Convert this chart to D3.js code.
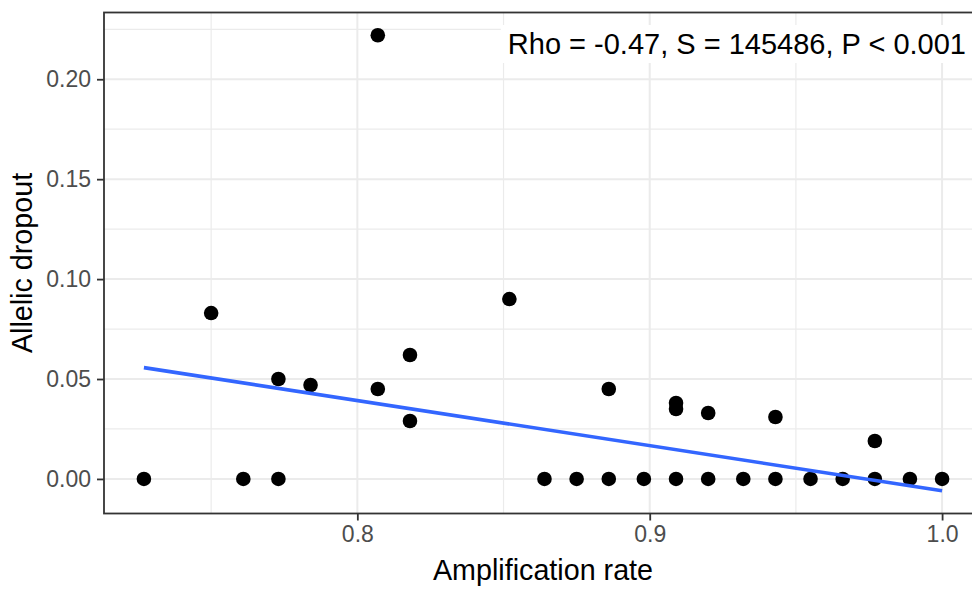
<!DOCTYPE html>
<html lang="en">
<head>
    <meta charset="UTF-8">
    <script src="https://d3js.org/d3.v7.min.js"></script>
    <style>
        body { margin: 0; padding: 0; background: #fff; }
        svg { display: block; font-family: "Liberation Sans", Arial, sans-serif; }
    </style>
</head>
<body>
    <div id="chart"></div>
    <script>
        // Data
        const ampRate = [0.727, 0.750, 0.761, 0.773, 0.773, 0.784, 0.807, 0.807, 0.818, 0.818,
                         0.852, 0.864, 0.875, 0.886, 0.886, 0.898, 0.909, 0.909, 0.909, 0.920,
                         0.920, 0.932, 0.943, 0.943, 0.955, 0.966, 0.977, 0.977, 0.989, 1.000];
        const dropout = [0, 0.083, 0, 0.050, 0, 0.047, 0.222, 0.045, 0.062, 0.029,
                         0.090, 0, 0, 0.045, 0, 0, 0.038, 0.035, 0, 0.033,
                         0, 0, 0.031, 0, 0, 0, 0.019, 0, 0, 0];
        // fitted line (start / end)
        const fitX = [0.727, 1.000];
        const fitY = [0.0557, -0.0059];
        const xTicks = [0.8, 0.9, 1.0];
        const xMinor = [0.75, 0.85, 0.95];
        const yTicks = [0, 0.05, 0.10, 0.15, 0.20];
        const yMinor = [0.025, 0.075, 0.125, 0.175, 0.225];
        const statLabel = "Rho = -0.47, S = 145486, P < 0.001";

        const width = 972, height = 590;
        const panel = {left: 104, right: 982, top: 12.5, bottom: 513.5};

        const svg = d3.select("#chart").append("svg")
            .attr("width", width)
            .attr("height", height);

        // ggplot-style 5% expansion
        const xExt = d3.extent(ampRate);
        const xPad = (xExt[1] - xExt[0]) * 0.05;
        const x = d3.scaleLinear()
            .domain([xExt[0] - xPad, xExt[1] + xPad])
            .range([panel.left, panel.right]);

        const yAll = dropout.concat(fitY);
        const yExt = d3.extent(yAll);
        const yPad = (yExt[1] - yExt[0]) * 0.05;
        const y = d3.scaleLinear()
            .domain([yExt[0] - yPad, yExt[1] + yPad])
            .range([panel.bottom, panel.top]);

        const grid = svg.append("g");
        grid.selectAll(".xminor").data(xMinor).join("line")
            .attr("x1", d => x(d)).attr("x2", d => x(d))
            .attr("y1", panel.top).attr("y2", panel.bottom)
            .attr("stroke", "#ebebeb").attr("stroke-width", 1.2);
        grid.selectAll(".yminor").data(yMinor).join("line")
            .attr("y1", d => y(d)).attr("y2", d => y(d))
            .attr("x1", panel.left).attr("x2", panel.right)
            .attr("stroke", "#ebebeb").attr("stroke-width", 1.2);
        grid.selectAll(".xmajor").data(xTicks).join("line")
            .attr("x1", d => x(d)).attr("x2", d => x(d))
            .attr("y1", panel.top).attr("y2", panel.bottom)
            .attr("stroke", "#ebebeb").attr("stroke-width", 2);
        grid.selectAll(".ymajor").data(yTicks).join("line")
            .attr("y1", d => y(d)).attr("y2", d => y(d))
            .attr("x1", panel.left).attr("x2", panel.right)
            .attr("stroke", "#ebebeb").attr("stroke-width", 2);

        // points
        svg.append("g").selectAll("circle")
            .data(ampRate.map((a, i) => ({a: a, d: dropout[i]})))
            .join("circle")
            .attr("cx", d => x(d.a))
            .attr("cy", d => y(d.d))
            .attr("r", 7.3)
            .attr("fill", "#000");

        // fitted line
        const line = d3.line().x(d => x(d[0])).y(d => y(d[1]));
        svg.append("path")
            .datum(fitX.map((v, i) => [v, fitY[i]]))
            .attr("d", line)
            .attr("fill", "none")
            .attr("stroke", "#3366FF")
            .attr("stroke-width", 3.6);

        // annotation with white box
        const ann = svg.append("g");
        const annText = ann.append("text")
            .attr("x", 966)
            .attr("y", 54)
            .attr("text-anchor", "end")
            .attr("font-size", 29)
            .attr("fill", "#000")
            .text(statLabel);
        const bb = annText.node().getBBox();
        ann.insert("rect", "text")
            .attr("x", bb.x - 7)
            .attr("y", bb.y - 3)
            .attr("width", bb.width + 20)
            .attr("height", bb.height + 6)
            .attr("fill", "#fff");

        // panel border
        svg.append("rect")
            .attr("x", panel.left).attr("y", panel.top)
            .attr("width", panel.right - panel.left)
            .attr("height", panel.bottom - panel.top)
            .attr("fill", "none")
            .attr("stroke", "#333333")
            .attr("stroke-width", 1.8);

        // axes
        const xAxis = svg.append("g")
            .attr("transform", `translate(0,${panel.bottom})`)
            .call(d3.axisBottom(x).tickValues(xTicks).tickFormat(d3.format(".1f"))
                .tickSize(7).tickPadding(5));
        const yAxis = svg.append("g")
            .attr("transform", `translate(${panel.left},0)`)
            .call(d3.axisLeft(y).tickValues(yTicks).tickFormat(d3.format(".2f"))
                .tickSize(7).tickPadding(6));
        [xAxis, yAxis].forEach(g => {
            g.select(".domain").remove();
            g.selectAll(".tick line").attr("stroke", "#333333").attr("stroke-width", 1.8);
            g.selectAll(".tick text")
                .attr("fill", "#4d4d4d")
                .attr("font-size", 23)
                .attr("font-family", "'Liberation Sans', Arial, sans-serif");
        });

        // axis titles
        svg.append("text")
            .attr("x", (panel.left + panel.right) / 2)
            .attr("y", 580)
            .attr("text-anchor", "middle")
            .attr("font-size", 28.7)
            .attr("fill", "#000")
            .text("Amplification rate");
        svg.append("text")
            .attr("transform", `translate(32,${(panel.top + panel.bottom) / 2}) rotate(-90)`)
            .attr("text-anchor", "middle")
            .attr("font-size", 28.7)
            .attr("fill", "#000")
            .text("Allelic dropout");
    </script>
</body>
</html>
